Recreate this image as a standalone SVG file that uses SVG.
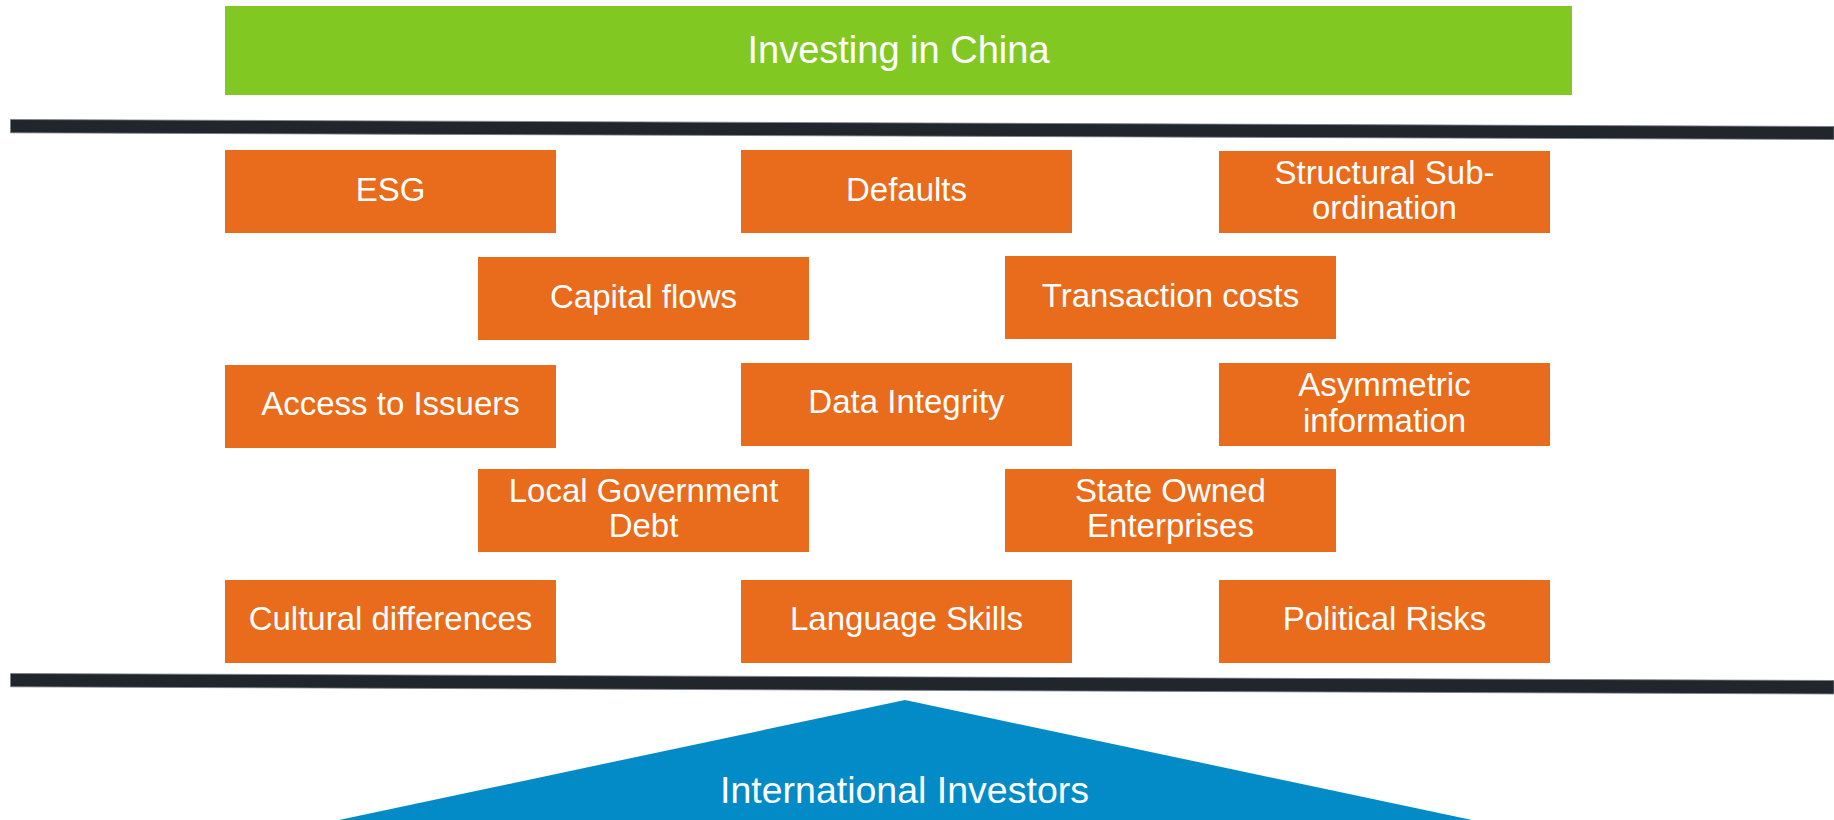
<svg xmlns="http://www.w3.org/2000/svg" width="1834" height="820" viewBox="0 0 1834 820">
  <style>
    .lbl { font-family: "Liberation Sans", Arial, sans-serif; fill: #ffffff; text-anchor: middle; }
    .box { fill: #E96B1C; }
    .box-text { font-size: 33px; }
    .bar { fill: #21252C; stroke: #7a7e84; stroke-width: 0.8; }
  </style>

  <!-- Title banner -->
  <g id="title">
    <rect x="225" y="6" width="1347" height="89" fill="#82C823"/>
    <text class="lbl" x="898.5" y="63" font-size="38">Investing in China</text>
  </g>

  <!-- Horizontal separator bars -->
  <g id="separators">
    <polygon class="bar" points="10.5,119.5 1834,126.5 1834,139.5 10.5,132.8"/>
    <polygon class="bar" points="10.5,673.5 1834,680.5 1834,694 10.5,686.8"/>
  </g>

  <!-- Row 1 -->
  <g id="esg">
    <rect class="box" x="225" y="150" width="331" height="83"/>
    <text class="lbl box-text" x="390.5" y="201">ESG</text>
  </g>
  <g id="defaults">
    <rect class="box" x="741" y="150" width="331" height="83"/>
    <text class="lbl box-text" x="906.5" y="201">Defaults</text>
  </g>
  <g id="structural-subordination">
    <rect class="box" x="1219" y="151" width="331" height="82"/>
    <text class="lbl box-text" x="1384.5" y="183.5">Structural Sub-</text>
    <text class="lbl box-text" x="1384.5" y="218.5">ordination</text>
  </g>

  <!-- Row 2 -->
  <g id="capital-flows">
    <rect class="box" x="478" y="257" width="331" height="83"/>
    <text class="lbl box-text" x="643.5" y="308">Capital flows</text>
  </g>
  <g id="transaction-costs">
    <rect class="box" x="1005" y="256" width="331" height="83"/>
    <text class="lbl box-text" x="1170.5" y="307">Transaction costs</text>
  </g>

  <!-- Row 3 -->
  <g id="access-to-issuers">
    <rect class="box" x="225" y="365" width="331" height="83"/>
    <text class="lbl box-text" x="390.5" y="414.5">Access to Issuers</text>
  </g>
  <g id="data-integrity">
    <rect class="box" x="741" y="363" width="331" height="83"/>
    <text class="lbl box-text" x="906.5" y="413">Data Integrity</text>
  </g>
  <g id="asymmetric-information">
    <rect class="box" x="1219" y="363" width="331" height="83"/>
    <text class="lbl box-text" x="1384.5" y="396">Asymmetric</text>
    <text class="lbl box-text" x="1384.5" y="431.5">information</text>
  </g>

  <!-- Row 4 -->
  <g id="local-government-debt">
    <rect class="box" x="478" y="469" width="331" height="83"/>
    <text class="lbl box-text" x="643.5" y="502.3">Local Government</text>
    <text class="lbl box-text" x="643.5" y="537.3">Debt</text>
  </g>
  <g id="state-owned-enterprises">
    <rect class="box" x="1005" y="469" width="331" height="83"/>
    <text class="lbl box-text" x="1170.5" y="502.3">State Owned</text>
    <text class="lbl box-text" x="1170.5" y="537.3">Enterprises</text>
  </g>

  <!-- Row 5 -->
  <g id="cultural-differences">
    <rect class="box" x="225" y="580" width="331" height="83"/>
    <text class="lbl box-text" x="390.5" y="630">Cultural differences</text>
  </g>
  <g id="language-skills">
    <rect class="box" x="741" y="580" width="331" height="83"/>
    <text class="lbl box-text" x="906.5" y="630">Language Skills</text>
  </g>
  <g id="political-risks">
    <rect class="box" x="1219" y="580" width="331" height="83"/>
    <text class="lbl box-text" x="1384.5" y="630">Political Risks</text>
  </g>

  <!-- Investor base -->
  <g id="international-investors">
    <polygon points="905,700 1472,820 339,820" fill="#038BC8"/>
    <text class="lbl" x="904.5" y="803" font-size="37.5">International Investors</text>
  </g>
</svg>
